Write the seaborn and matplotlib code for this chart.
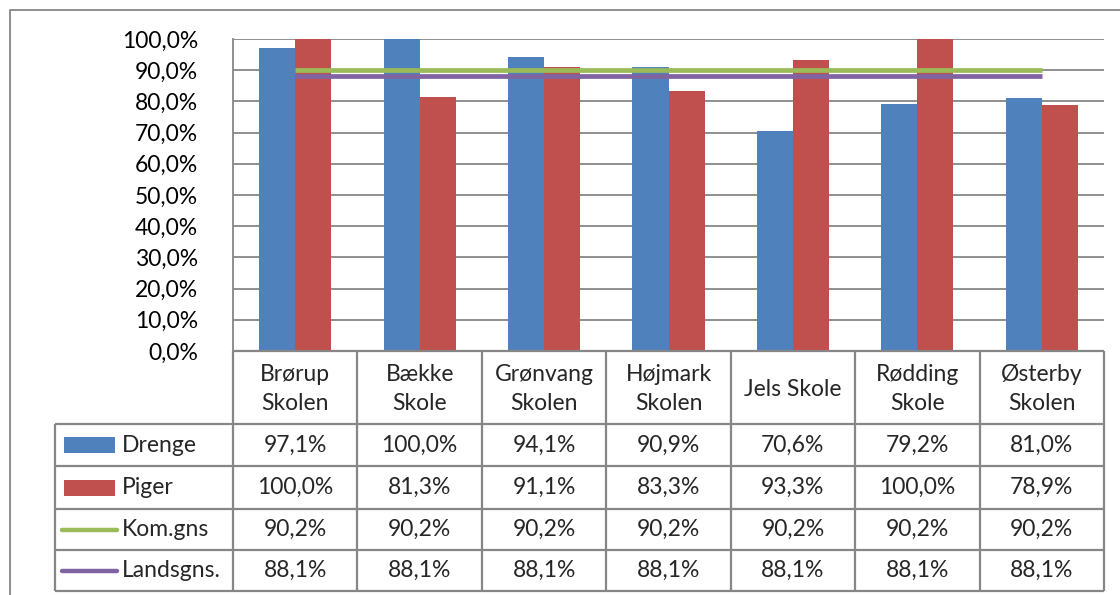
import matplotlib
matplotlib.use("Agg")
import matplotlib.pyplot as plt
import matplotlib.transforms as mtransforms
import seaborn as sns
import pandas as pd
import numpy as np

schools = ["Brørup\nSkolen", "Bække\nSkole", "Grønvang\nSkolen", "Højmark\nSkolen",
           "Jels Skole", "Rødding\nSkole", "Østerby\nSkolen"]
drenge = [97.1, 100.0, 94.1, 90.9, 70.6, 79.2, 81.0]
piger = [100.0, 81.3, 91.1, 83.3, 93.3, 100.0, 78.9]
kom_gns = [90.2, 90.2, 90.2, 90.2, 90.2, 90.2, 90.2]
lands_gns = [88.1, 88.1, 88.1, 88.1, 88.1, 88.1, 88.1]
series_names = ["Drenge", "Piger", "Kom.gns", "Landsgns."]
y_ticks = [0, 10, 20, 30, 40, 50, 60, 70, 80, 90, 100]
y_tick_labels = ["0,0%", "10,0%", "20,0%", "30,0%", "40,0%", "50,0%",
                 "60,0%", "70,0%", "80,0%", "90,0%", "100,0%"]

BLUE, RED, GREEN, PURPLE = "#4F81BD", "#C0504D", "#9BBB59", "#8064A2"
GRID = "#868686"

sns.set_style("white")
plt.rcParams["font.family"] = ["Lato", "DejaVu Sans"]
FS = 16.5

W, H = 1120, 595
fig = plt.figure(figsize=(W / 100, H / 100), dpi=100)

def fx(px):
    return px / W

def fy(py):
    return 1 - py / H

ax_l, ax_r, ax_t, ax_b = 233, 1104, 39, 351
ax = fig.add_axes([fx(ax_l), fy(ax_b), fx(ax_r - ax_l), (ax_b - ax_t) / H])

df = pd.DataFrame({
    "school": schools * 2,
    "gruppe": ["Drenge"] * len(schools) + ["Piger"] * len(schools),
    "value": drenge + piger,
})
sns.barplot(data=df, x="school", y="value", hue="gruppe", order=schools,
            hue_order=["Drenge", "Piger"], palette=[BLUE, RED], width=0.58,
            saturation=1, legend=False, ax=ax, zorder=2, linewidth=0,
            edgecolor="none")
pos = np.arange(len(schools))
sns.lineplot(x=pos, y=kom_gns, color=GREEN, lw=3.4, ax=ax, zorder=3,
             solid_capstyle="butt")
sns.lineplot(x=pos, y=lands_gns, color=PURPLE, lw=3.4, ax=ax, zorder=3,
             solid_capstyle="butt")

ax.set_xlim(-0.5, len(schools) - 0.5)
ax.set_ylim(0, 100)
ax.set_yticks(y_ticks)
ax.set_yticklabels(y_tick_labels, fontsize=FS, color="#000000")
ax.tick_params(axis="y", length=0, pad=25)
ax.set_xticks([])
ax.set_xlabel("")
ax.set_ylabel("")
ax.yaxis.grid(True, color=GRID, lw=1.3)
ax.set_axisbelow(True)
for s in ["top", "right", "bottom"]:
    ax.spines[s].set_visible(False)
ax.spines["left"].set_color(GRID)
ax.spines["left"].set_linewidth(1.3)

# Table
bt = mtransforms.blended_transform_factory(ax.transData, fig.transFigure)
lkw = dict(color=GRID, lw=1.6, solid_capstyle="butt")
hdr_top, hdr_bot = 351, 424
row_edges = [424, 466, 509, 550, 591]
tbl_left = 55
edges = np.arange(len(schools) + 1) - 0.5

for e in edges:
    fig.add_artist(plt.Line2D([e, e], [fy(hdr_top), fy(row_edges[-1])],
                              transform=bt, **lkw))
fig.add_artist(plt.Line2D([-0.5, len(schools) - 0.5], [fy(hdr_top)] * 2,
                          transform=bt, **lkw))
for i, s in enumerate(schools):
    fig.text(i, fy(389), s, transform=bt, ha="center",
             va="center", fontsize=FS, linespacing=1.5)

for r in row_edges:
    fig.add_artist(plt.Line2D([fx(tbl_left), fx(ax_r)], [fy(r)] * 2,
                              transform=fig.transFigure, **lkw))
fig.add_artist(plt.Line2D([fx(tbl_left)] * 2, [fy(row_edges[0]), fy(row_edges[-1])],
                          transform=fig.transFigure, **lkw))

def fmt(v):
    return f"{v:.1f}%".replace(".", ",")

values = [drenge, piger, kom_gns, lands_gns]
colors = [BLUE, RED, GREEN, PURPLE]
for k, (name, vals, col) in enumerate(zip(series_names, values, colors)):
    yc = (row_edges[k] + row_edges[k + 1]) / 2
    if k < 2:
        fig.add_artist(plt.Rectangle((fx(64), fy(yc + 8)), fx(51), 16 / H,
                                     transform=fig.transFigure, color=col, lw=0))
    else:
        fig.add_artist(plt.Line2D([fx(62), fx(117)], [fy(yc)] * 2,
                                  transform=fig.transFigure, color=col, lw=3.2,
                                  solid_capstyle="round"))
    fig.text(fx(122), fy(yc), name, ha="left", va="center", fontsize=FS)
    for i, v in enumerate(vals):
        fig.text(i, fy(yc), fmt(v), transform=bt, ha="center", va="center",
                 fontsize=FS)

fig.add_artist(plt.Line2D([fx(10), fx(10), fx(W + 5)], [fy(H + 5), fy(10), fy(10)],
                          transform=fig.transFigure, color=GRID, lw=1.3))

fig.savefig("out.png", dpi=100, facecolor="white")
